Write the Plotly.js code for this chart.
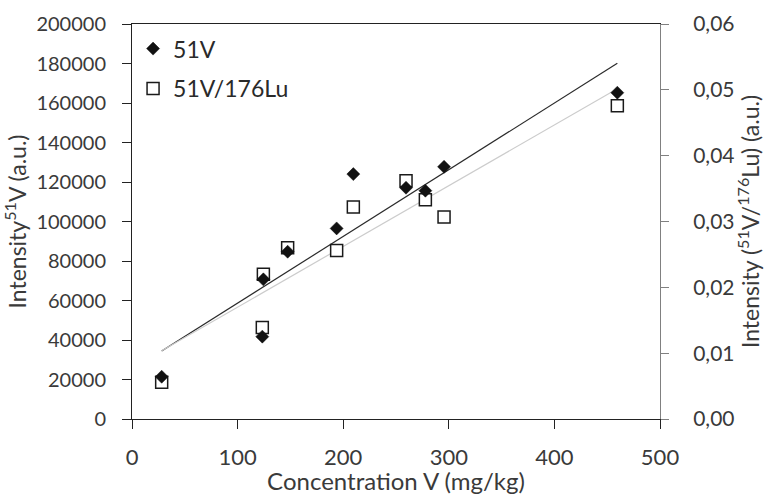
<!DOCTYPE html>
<html><head><meta charset="utf-8">
<script src="https://cdn.plot.ly/plotly-3.0.1.min.js"></script>
<style>html,body{margin:0;padding:0;background:#fff}#chart{width:764px;height:495px}</style>
</head><body><div id="chart"></div>
<script>
// Data
const concentration = [28.1, 123.4, 124.4, 147.4, 193.8, 209.6, 259.5, 277.8, 295.5, 459.6];
const intensityV51 = [21400, 41700, 70700, 84700, 96500, 124000, 117100, 115600, 127700, 165200];
const ratioV51Lu176 = [0.0056, 0.0139, 0.0220, 0.0260, 0.0256, 0.0322, 0.0362, 0.0333, 0.0307, 0.0476];
const seriesNames = ['51V', '51V/176Lu'];

function linFit(xs, ys) {
  const n = xs.length;
  const mx = xs.reduce((a, b) => a + b, 0) / n;
  const my = ys.reduce((a, b) => a + b, 0) / n;
  let sxy = 0, sxx = 0;
  for (let i = 0; i < n; i++) { sxy += (xs[i] - mx) * (ys[i] - my); sxx += (xs[i] - mx) ** 2; }
  const m = sxy / sxx;
  return { m: m, b: my - m * mx };
}
const xMin = Math.min(...concentration), xMax = Math.max(...concentration);
const fitV = linFit(concentration, intensityV51);
const fitR = linFit(concentration, ratioV51Lu176);

const traces = [
  { x: [xMin, xMax], y: [fitV.m * xMin + fitV.b, fitV.m * xMax + fitV.b], type: 'scatter', mode: 'lines',
    line: { color: '#2a2a2a', width: 1.2 }, showlegend: false, hoverinfo: 'skip', yaxis: 'y' },
  { x: [xMin, xMax], y: [fitR.m * xMin + fitR.b, fitR.m * xMax + fitR.b], type: 'scatter', mode: 'lines',
    line: { color: '#cccccc', width: 1.2 }, showlegend: false, hoverinfo: 'skip', yaxis: 'y2' },
  { x: concentration, y: ratioV51Lu176, type: 'scatter', mode: 'markers', name: seriesNames[1],
    legendgroup: 'b', legendrank: 2, yaxis: 'y2',
    marker: { symbol: 'square', size: 12, color: '#ffffff', line: { color: '#1a1a1a', width: 1.5 } } },
  { x: concentration, y: intensityV51, type: 'scatter', mode: 'markers', name: seriesNames[0],
    legendgroup: 'a', legendrank: 1, yaxis: 'y3',
    marker: { symbol: 'diamond', size: 10, color: '#111111', line: { color: '#111111', width: 0.5 } } }
];

const layout = {
  width: 764, height: 495,
  margin: { l: 132, r: 104, t: 24, b: 76 },
  paper_bgcolor: '#ffffff', plot_bgcolor: '#ffffff',
  separators: ',.',
  font: { family: 'Lato, sans-serif', color: '#3a3a3a' },
  showlegend: true,
  legend: { x: 0.002, xanchor: 'left', y: 0.992, yanchor: 'top', font: { size: 23, color: '#2a2a2a' },
    bgcolor: 'rgba(0,0,0,0)', traceorder: 'grouped', tracegroupgap: 7 },
  xaxis: { range: [0, 500], tick0: 0, dtick: 100, ticks: 'outside', ticklen: 9, tickcolor: '#222',
    showline: true, linecolor: '#222', linewidth: 1, mirror: true, showgrid: false, zeroline: false,
    tickfont: { size: 22 }, ticklabelstandoff: 10, automargin: false,
    title: { text: 'Concentration V (mg/kg)', font: { size: 24 }, standoff: 14 } },
  yaxis: { range: [0, 200000], tick0: 0, dtick: 20000, tickformat: 'd', ticks: 'outside', ticklen: 9,
    tickcolor: '#222', showline: true, linecolor: '#222', linewidth: 1, showgrid: false, zeroline: false,
    tickfont: { size: 20 }, ticklabelstandoff: 12, automargin: false,
    title: { text: 'Intensity<sup>51</sup>V (a.u.)', font: { size: 23 }, standoff: 4 } },
  yaxis2: { overlaying: 'y', side: 'right', range: [0, 0.06], tick0: 0, dtick: 0.01, tickformat: '.2f',
    ticks: 'outside', ticklen: 8, tickcolor: '#808080', showline: true, linecolor: '#808080', linewidth: 1,
    showgrid: false, zeroline: false, tickfont: { size: 21 }, ticklabelstandoff: 20, automargin: false,
    title: { text: 'Intensity (<sup>51</sup>V/<sup>176</sup>Lu) (a.u.)', font: { size: 23 }, standoff: 20 } },
  yaxis3: { overlaying: 'y', range: [0, 200000], visible: false }
};

Plotly.newPlot('chart', traces, layout, { staticPlot: true });
</script>
</body></html>
